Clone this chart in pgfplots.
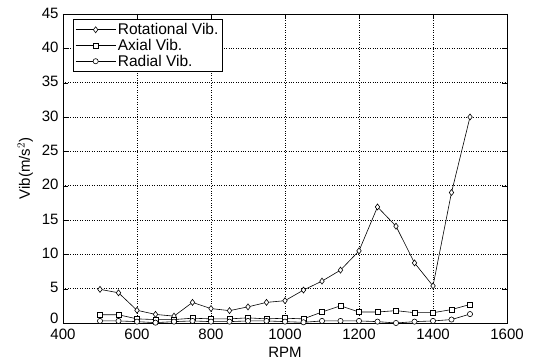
\documentclass[border=0pt]{standalone}
\usepackage{pgfplots}
\pgfplotsset{compat=1.18}
\usepackage{fontspec}
\setmainfont{Liberation Sans}
\begin{document}
\begin{tikzpicture}
\begin{axis}[
  name=ax,
  scale only axis, width=444pt, height=309pt,
  font=\fontsize{15}{17}\selectfont,
  tick label style={font=\fontsize{15}{17}\selectfont},
  label style={font=\fontsize{15}{17}\selectfont},
  xmin=400, xmax=1600, ymin=0, ymax=45,
  xtick={400,600,...,1600}, ytick={5,10,...,45},
  extra y ticks={0},
  extra y tick style={grid=none, yticklabel style={yshift=4pt}},
  grid=major, major grid style={black, dotted, line width=0.9pt},
  tick align=inside, tick style={black}, major tick length=5pt,
  axis line style={black, line width=0.9pt},
  xlabel={RPM}, ylabel={Vib(m/s$^2$)},
  xlabel style={yshift=-1pt},
  ylabel style={yshift=2pt},
  xticklabel style={yshift=-2pt},
  yticklabel style={xshift=-1pt, yshift=1pt},
  /pgf/number format/assume math mode=true,
  /pgf/number format/1000 sep={},
  legend style={draw=black, line width=0.9pt, font=\fontsize{15.5}{17}\selectfont, row sep=-1pt, inner sep=2pt, at={(0.0225,0.984)}, anchor=north west, legend cell align=left},
  legend image code/.code={\draw[mark repeat=2,mark phase=2,#1] plot coordinates {(0cm,0cm) (0.7cm,0cm) (1.4cm,0cm)};},
]
\addplot[black, line width=0.6pt, mark=diamond*, mark options={fill=white, solid, scale=1.5}] coordinates {
(500,4.9)(550,4.4)(600,1.85)(650,1.25)(700,1.0)(750,3.0)(800,2.1)(850,1.8)(900,2.35)(950,3.0)(1000,3.25)(1050,4.8)(1100,6.1)(1150,7.7)(1200,10.5)(1250,16.9)(1300,14.1)(1350,8.75)(1400,5.4)(1450,19.0)(1500,30.0)};
\addlegendentry{Rotational Vib.}
\addplot[black, line width=0.6pt, mark=square*, mark options={fill=white, solid, scale=1.3}] coordinates {
(500,1.2)(550,1.2)(600,0.6)(650,0.5)(700,0.5)(750,0.7)(800,0.6)(850,0.6)(900,0.75)(950,0.6)(1000,0.7)(1050,0.6)(1100,1.6)(1150,2.5)(1200,1.6)(1250,1.6)(1300,1.8)(1350,1.5)(1400,1.5)(1450,1.95)(1500,2.7)};
\addlegendentry{Axial Vib.}
\addplot[black, line width=0.6pt, mark=*, mark options={fill=white, solid, scale=1.3}] coordinates {
(500,0.3)(550,0.3)(600,0.2)(650,0.05)(700,0.2)(750,0.3)(800,0.2)(850,0.2)(900,0.3)(950,0.3)(1000,0.2)(1050,0.1)(1100,0.3)(1150,0.3)(1200,0.3)(1250,0.2)(1300,0.0)(1350,0.2)(1400,0.3)(1450,0.5)(1500,1.3)};
\addlegendentry{Radial Vib.}
\end{axis}
\pgfresetboundingbox
\path[use as bounding box] ([shift={(-63pt,-37pt)}]ax.south west) rectangle ([shift={(28pt,14pt)}]ax.north east);
\end{tikzpicture}
\end{document}
